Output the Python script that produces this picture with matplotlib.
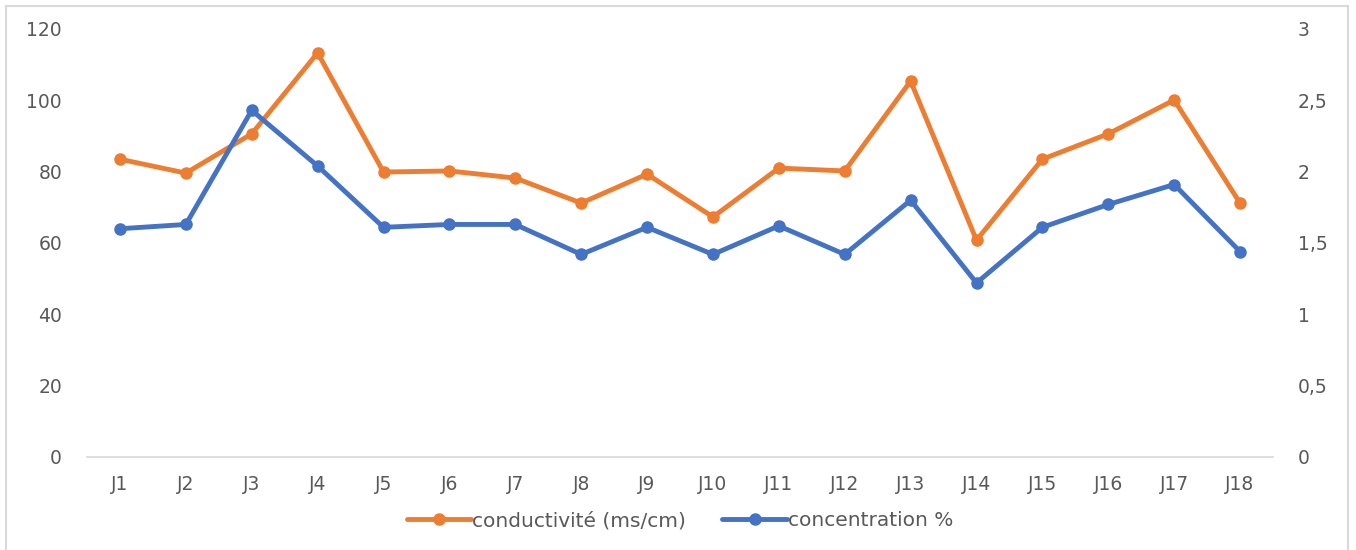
import matplotlib
matplotlib.use("Agg")
import matplotlib.pyplot as plt
from matplotlib.lines import Line2D

# données
jours = ["J1", "J2", "J3", "J4", "J5", "J6", "J7", "J8", "J9",
         "J10", "J11", "J12", "J13", "J14", "J15", "J16", "J17", "J18"]
conductivite = [83.5, 79.6, 90.6, 113.3, 79.9, 80.2, 78.2, 71.2, 79.3,
                67.3, 81.0, 80.2, 105.4, 60.8, 83.5, 90.6, 100.1, 71.2]
concentration = [1.60, 1.63, 2.43, 2.04, 1.61, 1.63, 1.63, 1.42, 1.61,
                 1.42, 1.62, 1.42, 1.80, 1.22, 1.61, 1.77, 1.91, 1.44]
left_ticks = [0, 20, 40, 60, 80, 100, 120]
right_ticks = [0, 0.5, 1, 1.5, 2, 2.5, 3]
right_labels = ["0", "0,5", "1", "1,5", "2", "2,5", "3"]

orange = "#ED7D31"
bleu = "#4472C4"
gris = "#595959"

plt.rcParams["font.family"] = ["DejaVu Sans"]

fig = plt.figure(figsize=(13.56, 5.5), dpi=100)
W, H = 1356, 550
ax = fig.add_axes([87 / W, 1 - 457 / H, (1273 - 87) / W, (457 - 29) / H])
ax2 = ax.twinx()

x = list(range(len(jours)))
ax.plot(x, conductivite, color=orange, lw=3.5, marker="o", ms=8,
        label="conductivité (ms/cm)", solid_capstyle="round")
ax2.plot(x, concentration, color=bleu, lw=3.5, marker="o", ms=8,
         label="concentration %", solid_capstyle="round")

ax.set_xlim(-0.5, len(jours) - 0.5)
ax.set_ylim(0, 120)
ax2.set_ylim(0, 3)
ax.set_yticks(left_ticks)
ax2.set_yticks(right_ticks)
ax2.set_yticklabels(right_labels)
ax.set_xticks(x)
ax.set_xticklabels(jours)

for a in (ax, ax2):
    for s in a.spines.values():
        s.set_visible(False)
    a.tick_params(length=0, colors=gris, labelsize=13.5)
ax.spines["bottom"].set_visible(True)
ax.spines["bottom"].set_color("#d9d9d9")
ax.spines["bottom"].set_linewidth(1.2)
ax.tick_params(axis="x", pad=13)
ax.tick_params(axis="y", pad=18)
ax2.tick_params(axis="y", pad=18)

h1, l1 = ax.get_legend_handles_labels()
h2, l2 = ax2.get_legend_handles_labels()
fig.legend(h1 + h2, l1 + l2, loc="center", bbox_to_anchor=(680 / W, 1 - 521 / H),
           ncol=2, frameon=False, fontsize=14.5, labelcolor=gris,
           handlelength=3.2, handletextpad=0.05, columnspacing=1.8)

# cadre du graphique
bc = "#d9d9d9"
fig.add_artist(Line2D([6 / W, 6 / W], [0, 1 - 6 / H], color=bc, lw=1.5))
fig.add_artist(Line2D([6 / W, 1348 / W], [1 - 6 / H, 1 - 6 / H], color=bc, lw=1.5))
fig.add_artist(Line2D([1348 / W, 1348 / W], [0, 1 - 6 / H], color=bc, lw=1.5))

fig.savefig("out.png", dpi=100)
